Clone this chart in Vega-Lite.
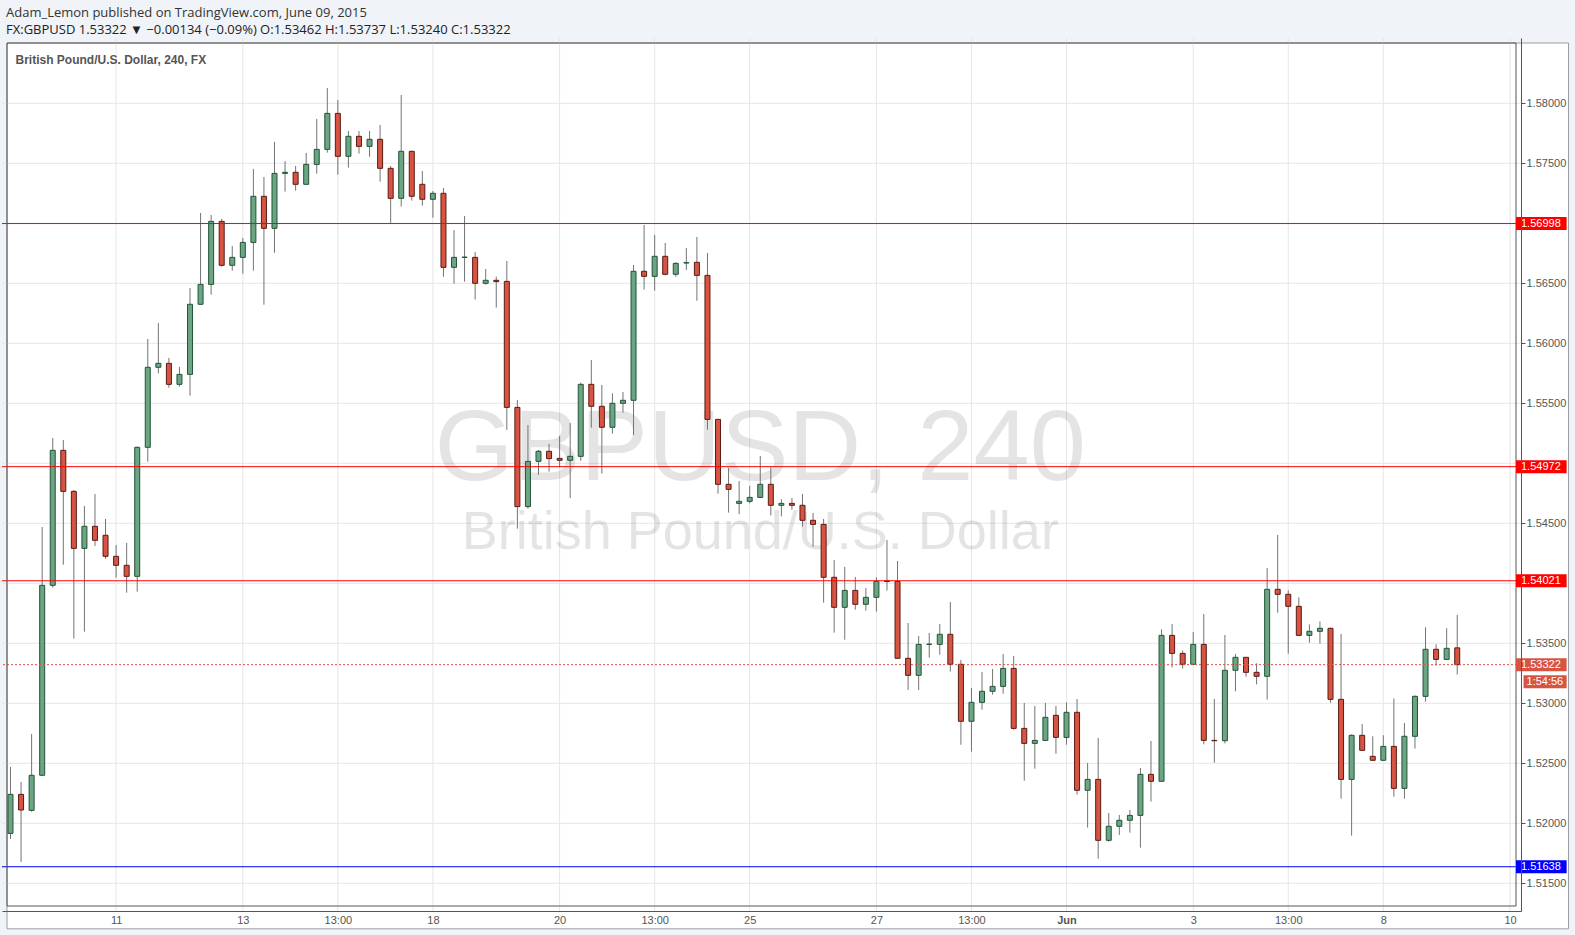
{
  "$schema": "https://vega.github.io/schema/vega-lite/v6.json",
  "width": 1519,
  "height": 873,
  "autosize": {"type": "none"},
  "padding": {"left": 2, "top": 38, "right": 54, "bottom": 24},
  "background": "#f0f3f7",
  "config": {
    "view": {"stroke": null},
    "title": {"anchor": "start", "frame": "group", "offset": 1, "dx": 4, "font": "Open Sans", "fontSize": 13, "fontWeight": "normal", "color": "#333333", "subtitleFont": "Open Sans", "subtitleFontSize": 13, "subtitleColor": "#222222", "subtitlePadding": 4}
  },
  "title": {"text": "Adam_Lemon published on TradingView.com, June 09, 2015", "subtitle": "FX:GBPUSD 1.53322 ▼ −0.00134 (−0.09%) O:1.53462 H:1.53737 L:1.53240 C:1.53322"},
  "datasets": {
    "candles": [
      {"i":0,"o":1.51916,"h":1.52469,"l":1.51869,"c":1.52241},
      {"i":1,"o":1.52241,"h":1.52344,"l":1.51678,"c":1.52111},
      {"i":2,"o":1.52108,"h":1.52744,"l":1.52097,"c":1.52400},
      {"i":3,"o":1.52400,"h":1.54469,"l":1.52395,"c":1.53983},
      {"i":4,"o":1.53983,"h":1.55211,"l":1.53964,"c":1.55108},
      {"i":5,"o":1.55108,"h":1.55194,"l":1.54155,"c":1.54766},
      {"i":6,"o":1.54766,"h":1.54778,"l":1.53539,"c":1.54291},
      {"i":7,"o":1.54291,"h":1.54644,"l":1.53597,"c":1.54475},
      {"i":8,"o":1.54475,"h":1.54744,"l":1.54311,"c":1.54358},
      {"i":9,"o":1.54400,"h":1.54536,"l":1.54205,"c":1.54225},
      {"i":10,"o":1.54225,"h":1.54319,"l":1.54047,"c":1.54150},
      {"i":11,"o":1.54150,"h":1.54336,"l":1.53922,"c":1.54058},
      {"i":12,"o":1.54058,"h":1.55140,"l":1.53930,"c":1.55133},
      {"i":13,"o":1.55133,"h":1.56036,"l":1.55014,"c":1.55800},
      {"i":14,"o":1.55800,"h":1.56170,"l":1.55750,"c":1.55833},
      {"i":15,"o":1.55833,"h":1.55878,"l":1.55630,"c":1.55658},
      {"i":16,"o":1.55658,"h":1.55803,"l":1.55639,"c":1.55741},
      {"i":17,"o":1.55741,"h":1.56461,"l":1.55564,"c":1.56325},
      {"i":18,"o":1.56325,"h":1.57086,"l":1.56320,"c":1.56491},
      {"i":19,"o":1.56491,"h":1.57069,"l":1.56405,"c":1.57016},
      {"i":20,"o":1.57016,"h":1.57036,"l":1.56639,"c":1.56650},
      {"i":21,"o":1.56650,"h":1.56811,"l":1.56605,"c":1.56716},
      {"i":22,"o":1.56716,"h":1.56878,"l":1.56580,"c":1.56841},
      {"i":23,"o":1.56841,"h":1.57453,"l":1.56605,"c":1.57225},
      {"i":24,"o":1.57225,"h":1.57386,"l":1.56322,"c":1.56958},
      {"i":25,"o":1.56958,"h":1.57678,"l":1.56755,"c":1.57416},
      {"i":26,"o":1.57416,"h":1.57519,"l":1.57264,"c":1.57425},
      {"i":27,"o":1.57425,"h":1.57478,"l":1.57272,"c":1.57325},
      {"i":28,"o":1.57325,"h":1.57586,"l":1.57320,"c":1.57491},
      {"i":29,"o":1.57491,"h":1.57869,"l":1.57414,"c":1.57616},
      {"i":30,"o":1.57616,"h":1.58128,"l":1.57589,"c":1.57916},
      {"i":31,"o":1.57916,"h":1.58028,"l":1.57405,"c":1.57558},
      {"i":32,"o":1.57558,"h":1.57769,"l":1.57464,"c":1.57725},
      {"i":33,"o":1.57725,"h":1.57769,"l":1.57580,"c":1.57641},
      {"i":34,"o":1.57641,"h":1.57769,"l":1.57555,"c":1.57700},
      {"i":35,"o":1.57700,"h":1.57819,"l":1.57347,"c":1.57458},
      {"i":36,"o":1.57458,"h":1.57478,"l":1.57003,"c":1.57208},
      {"i":37,"o":1.57208,"h":1.58069,"l":1.57139,"c":1.57600},
      {"i":38,"o":1.57600,"h":1.57605,"l":1.57189,"c":1.57225},
      {"i":39,"o":1.57325,"h":1.57436,"l":1.57147,"c":1.57200},
      {"i":40,"o":1.57200,"h":1.57269,"l":1.57047,"c":1.57250},
      {"i":41,"o":1.57250,"h":1.57294,"l":1.56555,"c":1.56633},
      {"i":42,"o":1.56633,"h":1.56944,"l":1.56497,"c":1.56716},
      {"i":43,"o":1.56716,"h":1.57061,"l":1.56514,"c":1.56718},
      {"i":44,"o":1.56716,"h":1.56761,"l":1.56364,"c":1.56500},
      {"i":45,"o":1.56500,"h":1.56619,"l":1.56489,"c":1.56525},
      {"i":46,"o":1.56525,"h":1.56555,"l":1.56297,"c":1.56514},
      {"i":47,"o":1.56516,"h":1.56686,"l":1.55278,"c":1.55466},
      {"i":48,"o":1.55466,"h":1.55528,"l":1.54455,"c":1.54639},
      {"i":49,"o":1.54639,"h":1.55319,"l":1.54622,"c":1.55016},
      {"i":50,"o":1.55016,"h":1.55111,"l":1.54905,"c":1.55100},
      {"i":51,"o":1.55100,"h":1.55161,"l":1.54930,"c":1.55039},
      {"i":52,"o":1.55041,"h":1.55228,"l":1.54966,"c":1.55025},
      {"i":53,"o":1.55025,"h":1.55336,"l":1.54711,"c":1.55058},
      {"i":54,"o":1.55058,"h":1.55672,"l":1.55022,"c":1.55658},
      {"i":55,"o":1.55658,"h":1.55861,"l":1.55297,"c":1.55475},
      {"i":56,"o":1.55475,"h":1.55653,"l":1.54914,"c":1.55300},
      {"i":57,"o":1.55300,"h":1.55583,"l":1.55247,"c":1.55500},
      {"i":58,"o":1.55500,"h":1.55594,"l":1.55422,"c":1.55525},
      {"i":59,"o":1.55525,"h":1.56653,"l":1.55236,"c":1.56600},
      {"i":60,"o":1.56600,"h":1.56986,"l":1.56447,"c":1.56558},
      {"i":61,"o":1.56558,"h":1.56903,"l":1.56439,"c":1.56725},
      {"i":62,"o":1.56725,"h":1.56836,"l":1.56566,"c":1.56575},
      {"i":63,"o":1.56575,"h":1.56675,"l":1.56555,"c":1.56666},
      {"i":64,"o":1.56669,"h":1.56794,"l":1.56611,"c":1.56672},
      {"i":65,"o":1.56675,"h":1.56886,"l":1.56355,"c":1.56566},
      {"i":66,"o":1.56566,"h":1.56753,"l":1.55280,"c":1.55366},
      {"i":67,"o":1.55366,"h":1.55370,"l":1.54747,"c":1.54825},
      {"i":68,"o":1.54825,"h":1.54961,"l":1.54589,"c":1.54783},
      {"i":69,"o":1.54666,"h":1.54853,"l":1.54575,"c":1.54683},
      {"i":70,"o":1.54683,"h":1.54811,"l":1.54666,"c":1.54716},
      {"i":71,"o":1.54716,"h":1.55061,"l":1.54710,"c":1.54825},
      {"i":72,"o":1.54825,"h":1.54969,"l":1.54566,"c":1.54650},
      {"i":73,"o":1.54650,"h":1.54700,"l":1.54558,"c":1.54666},
      {"i":74,"o":1.54666,"h":1.54711,"l":1.54614,"c":1.54650},
      {"i":75,"o":1.54650,"h":1.54744,"l":1.54472,"c":1.54525},
      {"i":76,"o":1.54525,"h":1.54586,"l":1.54305,"c":1.54491},
      {"i":77,"o":1.54491,"h":1.54536,"l":1.53839,"c":1.54050},
      {"i":78,"o":1.54050,"h":1.54194,"l":1.53589,"c":1.53800},
      {"i":79,"o":1.53800,"h":1.54136,"l":1.53530,"c":1.53941},
      {"i":80,"o":1.53941,"h":1.54053,"l":1.53780,"c":1.53825},
      {"i":81,"o":1.53825,"h":1.53961,"l":1.53772,"c":1.53883},
      {"i":82,"o":1.53883,"h":1.54050,"l":1.53764,"c":1.54016},
      {"i":83,"o":1.54019,"h":1.54361,"l":1.53939,"c":1.54015},
      {"i":84,"o":1.54016,"h":1.54186,"l":1.53370,"c":1.53375},
      {"i":85,"o":1.53375,"h":1.53669,"l":1.53111,"c":1.53233},
      {"i":86,"o":1.53233,"h":1.53561,"l":1.53111,"c":1.53491},
      {"i":87,"o":1.53491,"h":1.53586,"l":1.53380,"c":1.53493},
      {"i":88,"o":1.53491,"h":1.53661,"l":1.53405,"c":1.53575},
      {"i":89,"o":1.53575,"h":1.53844,"l":1.53264,"c":1.53325},
      {"i":90,"o":1.53325,"h":1.53361,"l":1.52655,"c":1.52850},
      {"i":91,"o":1.52850,"h":1.53128,"l":1.52597,"c":1.53008},
      {"i":92,"o":1.53008,"h":1.53261,"l":1.52947,"c":1.53100},
      {"i":93,"o":1.53100,"h":1.53286,"l":1.53072,"c":1.53141},
      {"i":94,"o":1.53141,"h":1.53411,"l":1.53080,"c":1.53291},
      {"i":95,"o":1.53291,"h":1.53394,"l":1.52780,"c":1.52791},
      {"i":96,"o":1.52791,"h":1.53003,"l":1.52355,"c":1.52666},
      {"i":97,"o":1.52666,"h":1.52978,"l":1.52455,"c":1.52691},
      {"i":98,"o":1.52691,"h":1.53003,"l":1.52688,"c":1.52883},
      {"i":99,"o":1.52900,"h":1.52978,"l":1.52580,"c":1.52716},
      {"i":100,"o":1.52716,"h":1.53008,"l":1.52655,"c":1.52925},
      {"i":101,"o":1.52925,"h":1.53036,"l":1.52239,"c":1.52275},
      {"i":102,"o":1.52275,"h":1.52503,"l":1.51964,"c":1.52366},
      {"i":103,"o":1.52366,"h":1.52711,"l":1.51705,"c":1.51858},
      {"i":104,"o":1.51858,"h":1.52086,"l":1.51847,"c":1.51975},
      {"i":105,"o":1.51975,"h":1.52069,"l":1.51903,"c":1.52025},
      {"i":106,"o":1.52025,"h":1.52111,"l":1.51922,"c":1.52066},
      {"i":107,"o":1.52066,"h":1.52461,"l":1.51797,"c":1.52408},
      {"i":108,"o":1.52408,"h":1.52686,"l":1.52180,"c":1.52350},
      {"i":109,"o":1.52350,"h":1.53616,"l":1.52345,"c":1.53566},
      {"i":110,"o":1.53566,"h":1.53661,"l":1.53300,"c":1.53416},
      {"i":111,"o":1.53416,"h":1.53441,"l":1.53289,"c":1.53325},
      {"i":112,"o":1.53325,"h":1.53594,"l":1.53320,"c":1.53491},
      {"i":113,"o":1.53491,"h":1.53744,"l":1.52658,"c":1.52691},
      {"i":114,"o":1.52691,"h":1.53036,"l":1.52505,"c":1.52688},
      {"i":115,"o":1.52688,"h":1.53569,"l":1.52666,"c":1.53275},
      {"i":116,"o":1.53275,"h":1.53411,"l":1.53100,"c":1.53383},
      {"i":117,"o":1.53383,"h":1.53386,"l":1.53222,"c":1.53258},
      {"i":118,"o":1.53258,"h":1.53333,"l":1.53158,"c":1.53225},
      {"i":119,"o":1.53225,"h":1.54128,"l":1.53030,"c":1.53950},
      {"i":120,"o":1.53950,"h":1.54403,"l":1.53755,"c":1.53908},
      {"i":121,"o":1.53908,"h":1.53941,"l":1.53414,"c":1.53808},
      {"i":122,"o":1.53808,"h":1.53883,"l":1.53560,"c":1.53566},
      {"i":123,"o":1.53566,"h":1.53658,"l":1.53505,"c":1.53600},
      {"i":124,"o":1.53600,"h":1.53683,"l":1.53497,"c":1.53625},
      {"i":125,"o":1.53625,"h":1.53630,"l":1.53005,"c":1.53033},
      {"i":126,"o":1.53033,"h":1.53578,"l":1.52205,"c":1.52366},
      {"i":127,"o":1.52366,"h":1.52741,"l":1.51897,"c":1.52733},
      {"i":128,"o":1.52733,"h":1.52828,"l":1.52603,"c":1.52608},
      {"i":129,"o":1.52558,"h":1.52725,"l":1.52520,"c":1.52525},
      {"i":130,"o":1.52525,"h":1.52733,"l":1.52520,"c":1.52641},
      {"i":131,"o":1.52641,"h":1.53041,"l":1.52222,"c":1.52291},
      {"i":132,"o":1.52291,"h":1.52836,"l":1.52205,"c":1.52725},
      {"i":133,"o":1.52725,"h":1.53066,"l":1.52622,"c":1.53058},
      {"i":134,"o":1.53058,"h":1.53633,"l":1.53014,"c":1.53450},
      {"i":135,"o":1.53450,"h":1.53491,"l":1.53314,"c":1.53366},
      {"i":136,"o":1.53366,"h":1.53625,"l":1.53360,"c":1.53458},
      {"i":137,"o":1.53462,"h":1.53737,"l":1.53240,"c":1.53322}
    ],
    "levels": [
      {"p": 1.56998, "kind": "res", "label": "1.56998"},
      {"p": 1.54972, "kind": "res", "label": "1.54972"},
      {"p": 1.54021, "kind": "res", "label": "1.54021"},
      {"p": 1.51638, "kind": "sup", "label": "1.51638"},
      {"p": 1.53322, "kind": "last", "label": "1.53322"}
    ],
    "hgrid": [
      {"g": 1.515}, {"g": 1.52}, {"g": 1.525}, {"g": 1.53}, {"g": 1.535}, {"g": 1.54}, {"g": 1.545},
      {"g": 1.55}, {"g": 1.555}, {"g": 1.56}, {"g": 1.565}, {"g": 1.57}, {"g": 1.575}, {"g": 1.58}
    ],
    "vgrid": [
      {"v": 10}, {"v": 22}, {"v": 31}, {"v": 40}, {"v": 52}, {"v": 61}, {"v": 70},
      {"v": 82}, {"v": 91}, {"v": 100}, {"v": 112}, {"v": 121}, {"v": 130}, {"v": 142}
    ]
  },
  "layer": [
    {
      "data": {"values": [{}]},
      "mark": {"type": "rect", "fill": "#ffffff", "stroke": "#9a9ea5", "strokeWidth": 1},
      "encoding": {
        "x": {"datum": -0.331, "type": "quantitative", "scale": {"domain": [-0.331, 142.566], "nice": false, "zero": false},
          "axis": {"orient": "bottom", "values": [10, 22, 31, 40, 52, 61, 70, 82, 91, 100, 112, 121, 130, 142],
            "labelExpr": "datum.value == 10 ? '11' : datum.value == 22 ? '13' : datum.value == 31 ? '13:00' : datum.value == 40 ? '18' : datum.value == 52 ? '20' : datum.value == 61 ? '13:00' : datum.value == 70 ? '25' : datum.value == 82 ? '27' : datum.value == 91 ? '13:00' : datum.value == 100 ? 'Jun' : datum.value == 112 ? '3' : datum.value == 121 ? '13:00' : datum.value == 130 ? '8' : '10'",
            "title": null, "grid": false, "ticks": false, "labelPadding": 3, "labelFont": "Liberation Sans", "labelFontSize": 11, "labelColor": "#555555",
            "labelFontWeight": {"condition": {"test": "datum.value == 100", "value": "bold"}, "value": "normal"},
            "labelOverlap": false, "labelBound": false, "labelFlush": false, "domainColor": "#555555", "domainWidth": 1, "zindex": 1}},
        "x2": {"datum": 147.54},
        "y": {"datum": 1.585025, "type": "quantitative", "scale": {"domain": [1.513108, 1.585025], "nice": false, "zero": false},
          "axis": {"orient": "right", "values": [1.515, 1.52, 1.525, 1.53, 1.535, 1.545, 1.555, 1.56, 1.565, 1.575, 1.58],
            "format": ".5f", "title": null, "grid": false, "tickSize": 4, "tickColor": "#555555", "labelPadding": 1, "labelFont": "Liberation Sans", "labelFontSize": 11, "labelColor": "#555555",
            "labelOverlap": false, "labelBound": false, "labelFlush": false, "domainColor": "#555555", "domainWidth": 1, "zindex": 1}},
        "y2": {"datum": 1.511206}
      }
    },
    {
      "data": {"name": "hgrid"},
      "mark": {"type": "rule", "color": "#e6e6e6", "strokeWidth": 1},
      "encoding": {
        "y": {"field": "g", "type": "quantitative", "scale": {"domain": [1.513108, 1.585025], "nice": false, "zero": false}}
      }
    },
    {
      "data": {"name": "vgrid"},
      "mark": {"type": "rule", "color": "#e6e6e6", "strokeWidth": 1},
      "encoding": {
        "x": {"field": "v", "type": "quantitative", "scale": {"domain": [-0.331, 142.566], "nice": false, "zero": false}}
      }
    },
    {
      "data": {"values": [{}]},
      "mark": {"type": "text", "text": "GBPUSD, 240", "font": "Liberation Sans", "fontSize": 101, "color": "#000000", "opacity": 0.1, "align": "center", "baseline": "alphabetic"},
      "encoding": {
        "x": {"datum": 71, "type": "quantitative", "scale": {"domain": [-0.331, 142.566], "nice": false, "zero": false}},
        "y": {"datum": 1.548608, "type": "quantitative", "scale": {"domain": [1.513108, 1.585025], "nice": false, "zero": false}}
      }
    },
    {
      "data": {"values": [{}]},
      "mark": {"type": "text", "text": "British Pound/U.S. Dollar", "font": "Liberation Sans", "fontSize": 54, "color": "#000000", "opacity": 0.1, "align": "center", "baseline": "alphabetic"},
      "encoding": {
        "x": {"datum": 71, "type": "quantitative", "scale": {"domain": [-0.331, 142.566], "nice": false, "zero": false}},
        "y": {"datum": 1.542817, "type": "quantitative", "scale": {"domain": [1.513108, 1.585025], "nice": false, "zero": false}}
      }
    },
    {
      "data": {"values": [{}]},
      "mark": {"type": "text", "text": "British Pound/U.S. Dollar, 240, FX", "font": "Liberation Sans", "fontSize": 12, "fontWeight": "bold", "color": "#555555", "align": "left", "baseline": "middle", "dx": 5},
      "encoding": {
        "x": {"datum": 0, "type": "quantitative", "scale": {"domain": [-0.331, 142.566], "nice": false, "zero": false}},
        "y": {"datum": 1.583567, "type": "quantitative", "scale": {"domain": [1.513108, 1.585025], "nice": false, "zero": false}}
      }
    },
    {
      "data": {"name": "candles"},
      "mark": {"type": "rule", "color": "#737375", "strokeWidth": 1},
      "encoding": {
        "x": {"field": "i", "type": "quantitative", "scale": {"domain": [-0.331, 142.566], "nice": false, "zero": false}},
        "y": {"field": "l", "type": "quantitative", "scale": {"domain": [1.513108, 1.585025], "nice": false, "zero": false}},
        "y2": {"field": "h"}
      }
    },
    {
      "data": {"name": "candles"},
      "mark": {"type": "bar", "width": 5, "strokeWidth": 1},
      "encoding": {
        "x": {"field": "i", "type": "quantitative", "scale": {"domain": [-0.331, 142.566], "nice": false, "zero": false}},
        "y": {"field": "o", "type": "quantitative", "scale": {"domain": [1.513108, 1.585025], "nice": false, "zero": false}},
        "y2": {"field": "c"},
        "fill": {"condition": {"test": "datum.c >= datum.o", "value": "#6ba583"}, "value": "#d75442"},
        "stroke": {"condition": {"test": "datum.c >= datum.o", "value": "#225437"}, "value": "#5b1a13"}
      }
    },
    {
      "data": {"name": "levels"},
      "transform": [{"filter": "datum.kind != 'last'"}],
      "mark": {"type": "rule", "strokeWidth": 1},
      "encoding": {
        "y": {"field": "p", "type": "quantitative", "scale": {"domain": [1.513108, 1.585025], "nice": false, "zero": false}},
        "color": {"field": "kind", "type": "nominal", "scale": {"domain": ["res", "sup", "last"], "range": ["#ff0000", "#0000ff", "#d75442"]}, "legend": null}
      }
    },
    {
      "data": {"name": "levels"},
      "transform": [{"filter": "datum.kind == 'last'"}],
      "mark": {"type": "rule", "strokeWidth": 1, "strokeDash": [2, 2]},
      "encoding": {
        "y": {"field": "p", "type": "quantitative", "scale": {"domain": [1.513108, 1.585025], "nice": false, "zero": false}},
        "color": {"field": "kind", "type": "nominal", "scale": {"domain": ["res", "sup", "last"], "range": ["#ff0000", "#0000ff", "#d75442"]}, "legend": null}
      }
    },
    {
      "data": {"values": [{}]},
      "mark": {"type": "rect", "fillOpacity": 0, "stroke": "#555555", "strokeWidth": 1},
      "encoding": {
        "x": {"datum": -0.331, "type": "quantitative", "scale": {"domain": [-0.331, 142.566], "nice": false, "zero": false}},
        "x2": {"datum": 142.566},
        "y": {"datum": 1.585025, "type": "quantitative", "scale": {"domain": [1.513108, 1.585025], "nice": false, "zero": false}},
        "y2": {"datum": 1.513108}
      }
    },
    {
      "data": {"name": "levels"},
      "mark": {"type": "bar", "height": 13},
      "encoding": {
        "x": {"datum": 142.566, "type": "quantitative", "scale": {"domain": [-0.331, 142.566], "nice": false, "zero": false}},
        "x2": {"datum": 147.36},
        "y": {"field": "p", "type": "quantitative", "scale": {"domain": [1.513108, 1.585025], "nice": false, "zero": false}},
        "color": {"field": "kind", "type": "nominal", "scale": {"domain": ["res", "sup", "last"], "range": ["#ff0000", "#0000ff", "#d75442"]}, "legend": null}
      }
    },
    {
      "data": {"name": "levels"},
      "mark": {"type": "text", "align": "left", "baseline": "middle", "dx": 5, "font": "Liberation Sans", "fontSize": 11, "color": "#ffffff"},
      "encoding": {
        "x": {"datum": 142.566, "type": "quantitative", "scale": {"domain": [-0.331, 142.566], "nice": false, "zero": false}},
        "y": {"field": "p", "type": "quantitative", "scale": {"domain": [1.513108, 1.585025], "nice": false, "zero": false}},
        "text": {"field": "label"}
      }
    },
    {
      "data": {"values": [{"p": 1.53322, "label": "1:54:56"}]},
      "mark": {"type": "bar", "height": 13, "yOffset": 17, "color": "#d75442"},
      "encoding": {
        "x": {"datum": 143.28, "type": "quantitative", "scale": {"domain": [-0.331, 142.566], "nice": false, "zero": false}},
        "x2": {"datum": 147.36},
        "y": {"field": "p", "type": "quantitative", "scale": {"domain": [1.513108, 1.585025], "nice": false, "zero": false}}
      }
    },
    {
      "data": {"values": [{"p": 1.53322, "label": "1:54:56"}]},
      "mark": {"type": "text", "align": "left", "baseline": "middle", "dx": 3, "yOffset": 17, "font": "Liberation Sans", "fontSize": 11, "color": "#ffffff"},
      "encoding": {
        "x": {"datum": 143.28, "type": "quantitative", "scale": {"domain": [-0.331, 142.566], "nice": false, "zero": false}},
        "y": {"field": "p", "type": "quantitative", "scale": {"domain": [1.513108, 1.585025], "nice": false, "zero": false}},
        "text": {"field": "label"}
      }
    }
  ]
}
